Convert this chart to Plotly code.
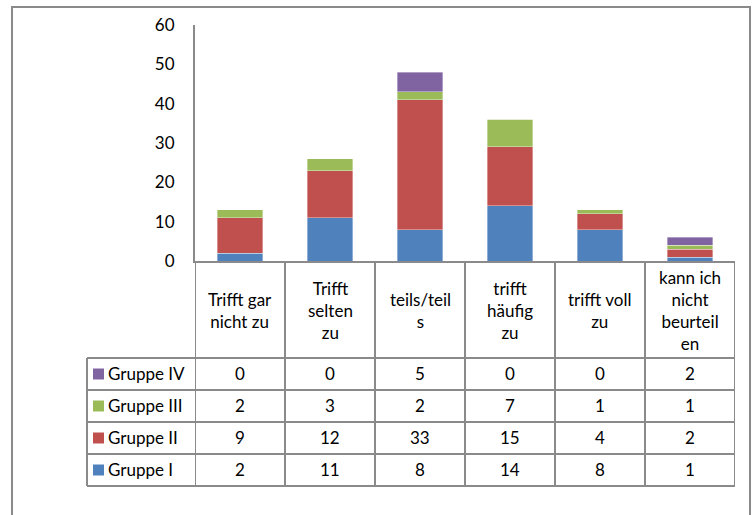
import plotly.graph_objects as go

categories = ["Trifft gar<br>nicht zu", "Trifft<br>selten<br>zu", "teils/teil<br>s",
              "trifft<br>häufig<br>zu", "trifft voll<br>zu", "kann ich<br>nicht<br>beurteil<br>en"]
series_names = ["Gruppe I", "Gruppe II", "Gruppe III", "Gruppe IV"]
gruppe_1 = [2, 11, 8, 14, 8, 1]
gruppe_2 = [9, 12, 33, 15, 4, 2]
gruppe_3 = [2, 3, 2, 7, 1, 1]
gruppe_4 = [0, 0, 5, 0, 0, 2]
y_ticks = [0, 10, 20, 30, 40, 50, 60]

series_values = [gruppe_1, gruppe_2, gruppe_3, gruppe_4]
colors = ["#4F81BD", "#C0504D", "#9BBB59", "#8064A2"]

W, H = 755, 515
FONT = "Lato"
FS = 17
GRID = "#8a8a8a"


def X(px):
    return px / W


def Y(py):
    return (H - py) / H


xs = list(range(len(categories)))
fig = go.Figure()
for name, vals, col in zip(series_names, series_values, colors):
    fig.add_trace(go.Bar(x=xs, y=vals, name=name, marker_color=col,
                         marker_line=dict(width=0.8, color="rgba(255,255,255,0.45)"),
                         width=0.51, showlegend=False))

shapes = []
annotations = []

# outer frame
shapes.append(dict(type="rect", xref="paper", yref="paper", x0=X(12), x1=X(750),
                   y0=Y(540), y1=Y(7), line=dict(color=GRID, width=2), fillcolor="rgba(0,0,0,0)"))

# table geometry (pixel rows)
header_top, header_bot = 262, 358
row_edges = [358, 390, 422, 454, 486]
left_px = 87

for i in range(len(categories) + 1):
    shapes.append(dict(type="line", xref="x", yref="paper", x0=i - 0.5, x1=i - 0.5,
                       y0=Y(header_top), y1=Y(row_edges[-1]), line=dict(color=GRID, width=2)))
shapes.append(dict(type="line", xref="paper", yref="paper", x0=X(left_px), x1=X(left_px),
                   y0=Y(row_edges[0]), y1=Y(row_edges[-1]), line=dict(color=GRID, width=2)))
for ry in row_edges:
    shapes.append(dict(type="line", xref="paper", yref="paper", x0=X(left_px), x1=X(735),
                       y0=Y(ry), y1=Y(ry), line=dict(color=GRID, width=2)))

for i, c in enumerate(categories):
    annotations.append(dict(x=i, y=Y((header_top + header_bot) / 2), xref="x", yref="paper",
                            text=c, showarrow=False, xanchor="center", yanchor="middle",
                            font=dict(family=FONT, size=FS, color="#000")))

row_order = [3, 2, 1, 0]
for r, si in enumerate(row_order):
    cy = (row_edges[r] + row_edges[r + 1]) / 2
    shapes.append(dict(type="rect", xref="paper", yref="paper", x0=X(93), x1=X(104),
                       y0=Y(cy + 5.5), y1=Y(cy - 5.5), line=dict(width=0), fillcolor=colors[si]))
    annotations.append(dict(x=X(106), y=Y(cy - 1), xref="paper", yref="paper", text=series_names[si],
                            showarrow=False, xanchor="left", yanchor="middle",
                            font=dict(family=FONT, size=FS, color="#000")))
    for i, v in enumerate(series_values[si]):
        annotations.append(dict(x=i, y=Y(cy - 1), xref="x", yref="paper", text=str(v),
                                showarrow=False, xanchor="center", yanchor="middle",
                                font=dict(family=FONT, size=FS, color="#000")))

fig.update_layout(
    width=W, height=H, margin=dict(l=0, r=0, t=0, b=0, pad=0, autoexpand=False),
    paper_bgcolor="white", plot_bgcolor="white", barmode="stack",
    xaxis=dict(domain=[X(195), X(735)], range=[-0.5, len(categories) - 0.5],
               showticklabels=False, showgrid=False, zeroline=False, automargin=False,
               showline=True, linecolor=GRID, linewidth=2, ticks=""),
    yaxis=dict(domain=[Y(261), Y(25)], range=[0, 60], tickvals=y_ticks, automargin=False,
               showgrid=False, zeroline=False, showline=True, linecolor=GRID, linewidth=2,
               ticks="", ticklabelstandoff=15,
               tickfont=dict(family=FONT, size=FS, color="#000")),
    shapes=shapes, annotations=annotations,
)

fig.write_html("out.html", config={"displayModeBar": False},
               post_script="document.body.style.margin='0';")
